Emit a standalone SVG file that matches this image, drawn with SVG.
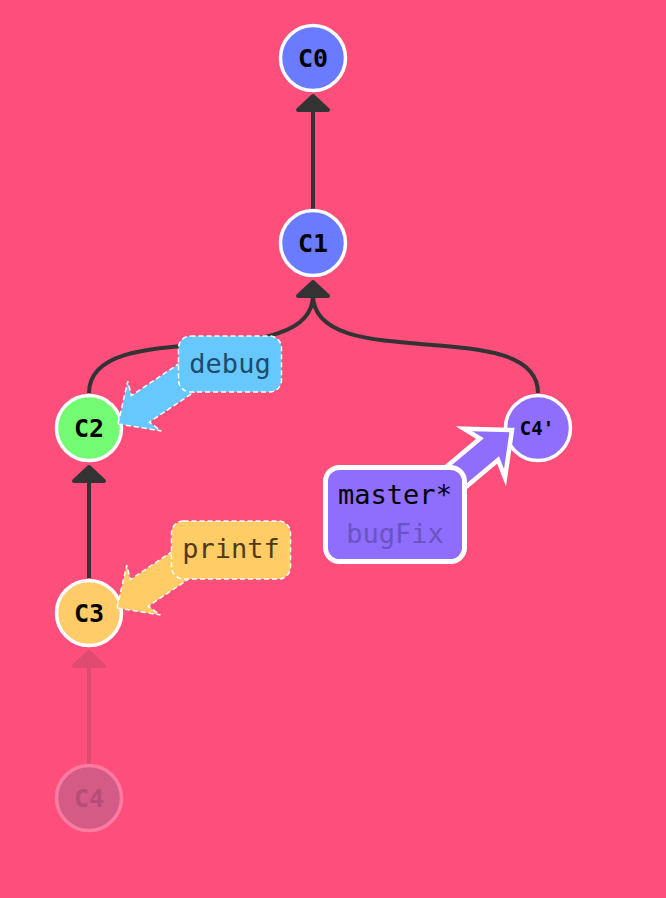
<svg xmlns="http://www.w3.org/2000/svg" width="666" height="898" viewBox="0 0 666 898">
<style>
.edge{fill:none;stroke:#333;stroke-width:4}
.head{fill:#333;stroke:#333;stroke-width:4;stroke-linejoin:round}
.node{stroke:#fff;stroke-width:3.5}
.ntext{font-family:"DejaVu Sans Mono",monospace;font-weight:bold;font-size:25px;text-anchor:middle;fill:#000}
.btext{font-family:"DejaVu Sans Mono",monospace;font-size:27px;text-anchor:middle}
.dash{stroke:#fff;stroke-width:1.5;stroke-dasharray:5 3}
</style>
<rect x="0" y="0" width="666" height="898" fill="#fe4f7c"/>
<g id="connectors">
  <path class="edge" d="M313 209 L313 110"/>
  <polygon class="head" points="313,96 298,110 328,110"/>
  <path class="edge" d="M89 393 C89 313 313 376 313 295"/>
  <path class="edge" d="M538 393 C538 313 313 376 313 295"/>
  <polygon class="head" points="313,282 298,296 328,296"/>
  <path class="edge" d="M89 578 L89 480"/>
  <polygon class="head" points="89,467 74,481 104,481"/>
  <g opacity="0.15">
    <path class="edge" d="M89 764 L89 666"/>
    <polygon class="head" points="89,652 74,666 104,666"/>
  </g>
</g>
<g id="C0"><circle class="node" cx="313" cy="58" r="32.5" fill="#6b7bff"/><text class="ntext" x="313" y="67">C0</text></g>
<g id="C1"><circle class="node" cx="313" cy="243" r="32.5" fill="#6b7bff"/><text class="ntext" x="313" y="252">C1</text></g>
<g id="C2"><circle class="node" cx="89" cy="428" r="32.5" fill="#74fb74"/><text class="ntext" x="89" y="437">C2</text></g>
<g id="C3"><circle class="node" cx="89" cy="613" r="32.5" fill="#ffcc69"/><text class="ntext" x="89" y="622">C3</text></g>
<g id="C4"><circle cx="89" cy="798" r="32.5" fill="#d45b86" stroke="#fd7aa0" stroke-width="3.5"/><text class="ntext" x="89" y="807" style="fill:#b64d78">C4</text></g>
<g id="C4p"><circle class="node" cx="538" cy="428" r="32.5" fill="#8f6dfd"/><text class="ntext" x="537" y="435" style="font-size:19px">C4'</text></g>
<g id="debug">
  <polygon transform="translate(118,424) rotate(146)" points="0,0 -32,-30 -27,-16 -115,-16 -115,16 -27,16 -32,30" fill="#66c8ff" class="dash"/>
  <rect x="178.5" y="336" width="103" height="56" rx="12" fill="#66c8ff" class="dash"/>
  <text class="btext" x="230" y="373" fill="#1e4b6b">debug</text>
</g>
<g id="printf">
  <polygon transform="translate(117,608) rotate(146)" points="0,0 -32,-30 -27,-16 -115,-16 -115,16 -27,16 -32,30" fill="#ffcc66" class="dash"/>
  <rect x="171.5" y="521" width="119" height="58" rx="12" fill="#ffcc66" class="dash"/>
  <text class="btext" x="231" y="558" fill="#4d3b1c">printf</text>
</g>
<g id="master">
  <polygon transform="translate(512,430) rotate(-40)" points="0,0 -36,-32 -30,-14 -130,-14 -130,14 -30,14 -36,32" fill="#8f6dfd" stroke="#fff" stroke-width="4.5"/>
  <rect x="325.5" y="467.5" width="139" height="94" rx="14" fill="#8f6dfd" stroke="#fff" stroke-width="5"/>
  <text class="btext" x="395" y="504" fill="#000">master*</text>
  <text class="btext" x="395" y="543" fill="#6a54c2">bugFix</text>
</g>
</svg>
